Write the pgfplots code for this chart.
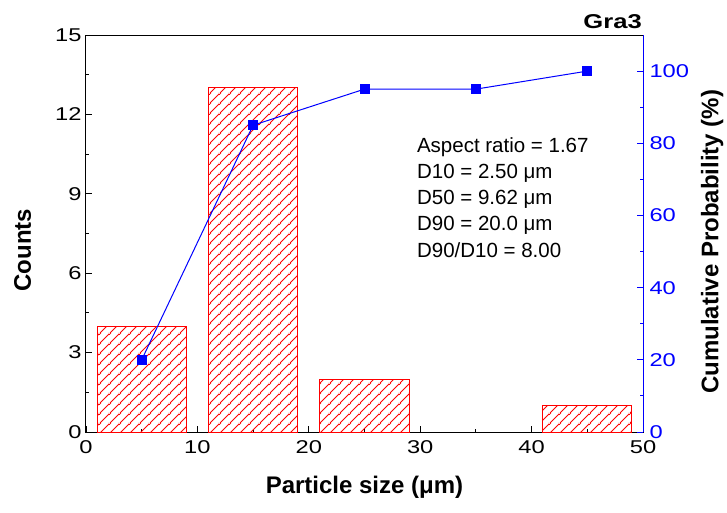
\documentclass[border=0pt]{standalone}
\usepackage{fontspec}
\setmainfont{Liberation Sans}
\newfontfamily\tickfont[FakeStretch=1.28]{Liberation Sans}
\usepackage{pgfplots}
\pgfplotsset{compat=1.18}
\usetikzlibrary{patterns}
\definecolor{pblue}{RGB}{0,0,255}
\definecolor{pred}{RGB}{255,0,0}
\pgfdeclarepatterninherentlycolored{redhatch}{\pgfpointorigin}{\pgfqpoint{10pt}{10pt}}{\pgfqpoint{10pt}{10pt}}{%
  \pgfsetcolor{pred}%
  \pgfsetlinewidth{0.8pt}%
  \pgfpathmoveto{\pgfqpoint{-1pt}{-1pt}}\pgfpathlineto{\pgfqpoint{11pt}{11pt}}%
  \pgfpathmoveto{\pgfqpoint{-1pt}{9pt}}\pgfpathlineto{\pgfqpoint{1pt}{11pt}}%
  \pgfpathmoveto{\pgfqpoint{9pt}{-1pt}}\pgfpathlineto{\pgfqpoint{11pt}{1pt}}%
  \pgfusepath{stroke}%
}
\begin{document}
\begin{tikzpicture}
\pgfplotsset{
  every axis/.append style={
    scale only axis, width=557pt, height=397pt,
    xmin=0, xmax=50,
    tick align=inside,
    major tick length=6pt, minor tick length=3.5pt,
    /pgf/number format/assume math mode=true,
    tick label style={font=\tickfont\fontsize{18.5}{18.5}\selectfont},
    label style={font=\fontsize{24}{24}\selectfont\bfseries},
    axis line style={line width=1pt},
    every tick/.style={line width=0.9pt},
  }
}
\begin{axis}[
  name=ax,
  ymin=0, ymax=15,
  xtick={0,10,...,50}, minor xtick={5,15,...,45},
  ytick={0,3,...,15}, minor ytick={1.5,4.5,...,13.5},
  xtick pos=bottom, ytick pos=left,
  xlabel={Particle size (μm)},
  ylabel={Counts},
  xlabel style={at={(axis description cs:0.5,-0.139)}, anchor=center},
  ylabel style={at={(axis description cs:-0.114,0.458)}, anchor=center},
  xticklabel style={yshift=-5pt},
  yticklabel style={xshift=-1pt},
]
\addplot[ybar, bar width=8, draw=pred, line width=1pt, pattern=redhatch]
  coordinates {(5,4) (15,13) (25,2) (45,1)};
\node[anchor=north west, align=left, inner sep=0pt,
  font=\fontsize{20.5}{26.25}\selectfont]
  at (rel axis cs:0.594,0.743)
  {Aspect ratio = 1.67\\D10 = 2.50 μm\\D50 = 9.62 μm\\D90 = 20.0 μm\\D90/D10 = 8.00};
\end{axis}
\begin{axis}[
  ymin=0, ymax=110,
  axis x line=none,
  axis y line*=right,
  ytick={0,20,...,100}, minor ytick={10,30,...,90},
  y axis line style={pblue, line width=1pt},
  ytick style={pblue},
  yticklabel style={pblue, xshift=3pt},
  ylabel={Cumulative Probability (\%)},
  ylabel style={at={(axis description cs:1.124,0.479)}, anchor=center, black, rotate=0},
]
\addplot[pblue, line width=1pt, mark=square*, mark size=4.5pt,
  mark options={fill=pblue, draw=pblue}]
  coordinates {(5,20) (15,85) (25,95) (35,95) (45,100)};
\end{axis}
\node[anchor=base east, font=\tickfont\fontsize{20}{20}\selectfont\bfseries, inner sep=0pt]
  at ([xshift=-1pt,yshift=6.5pt]ax.north east) {Gra3};
\path ([xshift=-86pt,yshift=-80pt]ax.south west) rectangle ([xshift=84pt,yshift=35pt]ax.north east);
\end{tikzpicture}
\end{document}
